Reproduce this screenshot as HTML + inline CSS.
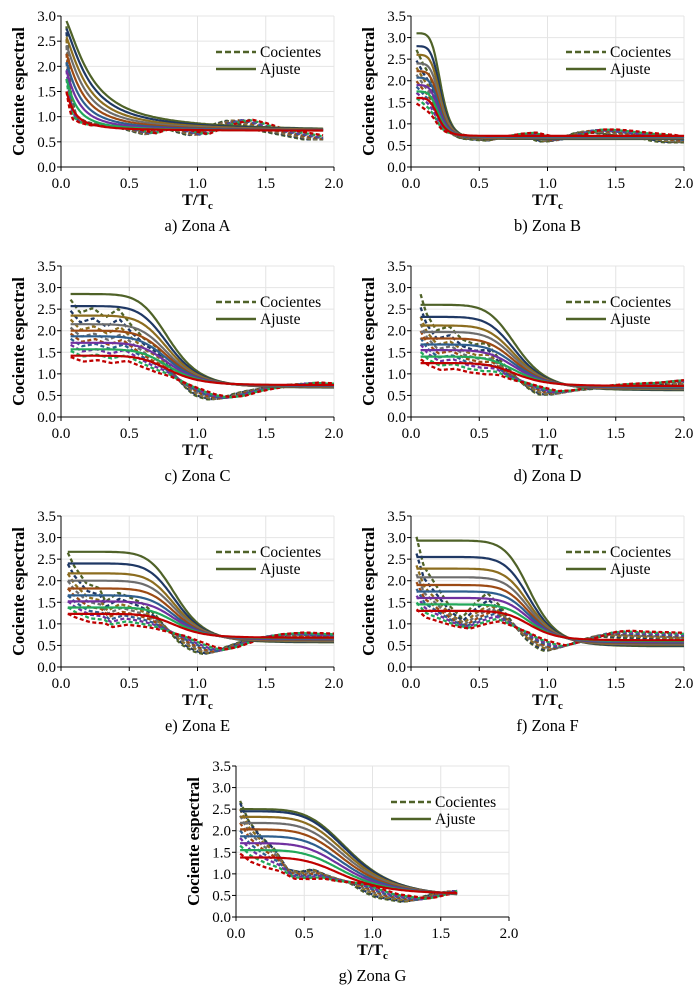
<!DOCTYPE html>
<html><head><meta charset="utf-8"><style>
html,body{margin:0;padding:0;background:#fff}
svg{display:block}
svg text{font-family:"Liberation Serif","Times New Roman",serif}
</style></head><body>
<svg id="fig" width="700" height="995" viewBox="0 0 700 995" xmlns="http://www.w3.org/2000/svg" font-family="Liberation Serif, serif"></svg>
<script>
// ---- data ----
const panelLetters = ["a","b","c","d","e","f","g"];
const panelNames = ["Zona A","Zona B","Zona C","Zona D","Zona E","Zona F","Zona G"];
const yMaxes = [3.0,3.5,3.5,3.5,3.5,3.5,3.5];
const xTicks = [0,0.5,1.0,1.5,2.0];
const xStarts = [0.04,0.04,0.07,0.07,0.05,0.04,0.03];
const xEnds = [1.92,2.0,2.0,2.0,2.0,2.0,1.62];
const startA = [2.9,2.75,2.58,2.42,2.25,2.08,1.92,1.75,1.5];
const startB = [3.1,2.8,2.6,2.4,2.22,2.07,1.9,1.75,1.6];
const startC = [2.85,2.57,2.35,2.15,2.0,1.87,1.72,1.57,1.42];
const startD = [2.6,2.32,2.12,1.97,1.82,1.68,1.55,1.4,1.25];
const startE = [2.67,2.4,2.17,2.0,1.82,1.66,1.52,1.38,1.23];
const startF = [2.93,2.55,2.28,2.08,1.9,1.75,1.6,1.45,1.3];
const startG = [2.5,2.45,2.32,2.18,2.03,1.87,1.71,1.55,1.38];
const x0Top = [0.2,0.22,0.8,0.78,0.85,0.88,0.85];
const x0Bot = [0.06,0.2,0.8,0.78,0.85,0.88,0.8];
const slopes = [1.6,6,7,7,8,9,5];
const yInfTop = [0.7,0.65,0.68,0.62,0.57,0.48,0.45];
const yInfBot = [0.72,0.72,0.74,0.72,0.68,0.62,0.53];
const mA = [[0.04,1],[0.08,0.3],[0.12,0.1],[0.3,0.05],[0.5,0]];
const aA = [[0.04,0],[0.1,0.15],[0.2,0.1],[0.4,0.1],[0.5,0.05],[0.6,-0.02],[0.65,-0.05],[0.7,0],[0.8,0.08],[0.9,0],[1.0,-0.07],[1.1,0.05],[1.2,0.15],[1.3,0.22],[1.4,0.15],[1.5,0.05],[1.6,0],[1.7,-0.05],[1.8,-0.1],[1.9,-0.15]];
const mB = [[0.04,0.85],[0.1,0.7],[0.2,0.55],[0.3,0.3],[0.4,0.1],[0.5,0]];
const aB = [[0.04,0],[0.2,0],[0.3,0.05],[0.4,0],[0.5,-0.02],[0.6,-0.04],[0.7,0.02],[0.75,0.05],[0.85,0.08],[0.95,0],[1.0,-0.06],[1.1,-0.05],[1.2,0.05],[1.3,0.15],[1.4,0.15],[1.5,0.12],[1.6,0.08],[1.7,0.05],[1.8,0.02],[1.9,-0.05],[2.0,-0.08]];
const mC = [[0.07,0.95],[0.15,0.8],[0.25,0.85],[0.35,0.75],[0.45,0.85],[0.55,0.7],[0.65,0.6],[0.75,0.6],[0.85,0.5],[0.95,0.3],[1.05,0.1],[1.2,0]];
const aC = [[0.07,0],[0.75,0],[0.85,-0.05],[0.95,-0.12],[1.05,-0.22],[1.15,-0.28],[1.25,-0.25],[1.35,-0.15],[1.45,-0.08],[1.55,-0.03],[1.65,0],[1.75,0.06],[1.85,0.04],[2.0,0.04]];
const mD = [[0.07,1.15],[0.12,0.9],[0.2,0.7],[0.3,0.75],[0.4,0.6],[0.5,0.55],[0.6,0.6],[0.7,0.45],[0.8,0.35],[0.9,0.2],[1.0,0.05],[1.1,0]];
const aD = [[0.07,0],[0.8,0],[0.9,-0.05],[1.0,-0.12],[1.1,-0.1],[1.2,-0.05],[1.3,0],[1.5,0.05],[1.7,0.08],[1.9,0.15],[2.0,0.12]];
const mE = [[0.05,1.0],[0.1,0.85],[0.2,0.65],[0.3,0.6],[0.35,0.45],[0.45,0.55],[0.55,0.5],[0.65,0.45],[0.75,0.35],[0.85,0.2],[0.95,0.05],[1.05,0]];
const aE = [[0.05,0],[0.85,0],[0.95,-0.1],[1.05,-0.22],[1.12,-0.27],[1.2,-0.22],[1.3,-0.1],[1.4,0],[1.5,0.08],[1.65,0.12],[1.8,0.1],[2.0,0.08]];
const mF = [[0.04,1.05],[0.1,0.75],[0.2,0.55],[0.3,0.35],[0.4,0.22],[0.5,0.35],[0.6,0.45],[0.7,0.35],[0.8,0.22],[0.9,0.12],[1.0,0.03],[1.1,0]];
const aF = [[0.04,0],[0.2,0.05],[0.4,0.12],[0.6,0.15],[0.8,0.1],[0.9,0],[1.0,-0.08],[1.05,-0.12],[1.1,-0.08],[1.2,0],[1.3,0.1],[1.4,0.2],[1.5,0.22],[1.6,0.2],[1.8,0.18],[2.0,0.15]];
const mG = [[0.03,1.1],[0.1,0.85],[0.2,0.65],[0.3,0.5],[0.4,0.25],[0.5,0.2],[0.6,0.25],[0.7,0.2],[0.8,0.15],[0.9,0.12],[1.0,0.05],[1.1,0]];
const aG = [[0.03,0],[0.4,0.15],[0.5,0.2],[0.7,0.2],[0.8,0.22],[0.9,0.2],[1.0,0.1],[1.1,0],[1.2,-0.05],[1.3,-0.1],[1.35,-0.08],[1.45,0],[1.55,0.1],[1.62,0.1]];
const startsAll = [startA,startB,startC,startD,startE,startF,startG];
const mAll = [mA,mB,mC,mD,mE,mF,mG];
const aAll = [aA,aB,aC,aD,aE,aF,aG];
const colors = ["#4f6228","#1f3864","#8c6d1f","#6d6d6d","#9c4a14","#2e5e8e","#7030a0","#22a85a","#c00000"];
const offsets = [[0,0],[350,0],[0,250],[350,250],[0,500],[350,500],[175,750]];

const NS="http://www.w3.org/2000/svg";
const FONT="Liberation Serif, serif";
const svg=document.getElementById('fig');
function mk(tag,attrs,parent){const e=document.createElementNS(NS,tag);for(const k in attrs)e.setAttribute(k,attrs[k]);if(tag==='text')e.setAttribute('font-family',FONT);(parent||svg).appendChild(e);return e;}
function interp(kn,x){if(x<=kn[0][0])return kn[0][1];for(let i=1;i<kn.length;i++){if(x<=kn[i][0]){const t=(x-kn[i-1][0])/(kn[i][0]-kn[i-1][0]);return kn[i-1][1]+t*(kn[i][1]-kn[i-1][1]);}}return kn[kn.length-1][1];}

for(let p=0;p<7;p++){
  const [ox,oy]=offsets[p];
  const L=ox+61,R=ox+334,T=oy+16,B=oy+167;
  const ymax=yMaxes[p];
  const sx=v=>L+(v/2)*(R-L);
  const sy=v=>B-(v/ymax)*(B-T);
  const g=mk('g',{});
  
  
  for(let v=0.5;v<=ymax+1e-9;v+=0.5){const l=mk('line',{x1:L,x2:R,y1:sy(v),y2:sy(v),stroke:'#e4e4e4','stroke-width':1},g);}
  for(const v of xTicks){if(v===0)continue;const l=mk('line',{x1:sx(v),x2:sx(v),y1:T,y2:B,stroke:'#e4e4e4','stroke-width':1},g);}
  const starts=startsAll[p],n=slopes[p],xs=xStarts[p],xe=xEnds[p],ns=starts.length;
  const fitFns=[];
  for(let i=0;i<ns;i++){
    const t=i/(ns-1);
    const x0=x0Top[p]+t*(x0Bot[p]-x0Top[p]);
    const yinf=yInfTop[p]+t*(yInfBot[p]-yInfTop[p]);
    const f=x=>1/(1+Math.pow(x/x0,n));
    const f0=f(xs);
    fitFns.push({yinf,fit:x=>yinf+(starts[i]-yinf)*f(x)/f0});
  }
  const steps=160;
  for(let i=0;i<ns;i++){
    const {yinf,fit}=fitFns[i];
    const shift=1-0.018*(i-4);
    let d='';
    for(let k=0;k<=steps;k++){
      const x=xs+(xe-xs)*k/steps;
      const xx=Math.max(xs,x*shift);
      const y=yinf+(fit(x)-yinf)*interp(mAll[p],xx)+interp(aAll[p],xx);
      d+=(k?'L':'M')+sx(x).toFixed(1)+','+sy(y).toFixed(1);
    }
    const pth=mk('path',{d,fill:'none',stroke:colors[i],'stroke-width':2.3,'stroke-dasharray':'4,2.5'},g);
    
    
  }
  for(let i=0;i<ns;i++){
    const {fit}=fitFns[i];
    let d='';
    for(let k=0;k<=steps;k++){
      const x=xs+(xe-xs)*k/steps;
      d+=(k?'L':'M')+sx(x).toFixed(1)+','+sy(fit(x)).toFixed(1);
    }
    const pth=mk('path',{d,fill:'none',stroke:colors[i],'stroke-width':2.2},g);
    
    
  }
  const ya=mk('line',{x1:L,x2:L,y1:T,y2:B,stroke:'#000','stroke-width':1},g);
  
  const xa=mk('line',{x1:L,x2:R,y1:B,y2:B,stroke:'#000','stroke-width':1},g);
  
  for(let v=0;v<=ymax+1e-9;v+=0.5){
    mk('line',{x1:L-4,x2:L,y1:sy(v),y2:sy(v),stroke:'#000'},g);
    const t=mk('text',{x:L-5,y:sy(v)+5,'text-anchor':'end','font-size':15,fill:'#000'},g);
    t.textContent=v.toFixed(1);
    
  }
  for(const v of xTicks){
    mk('line',{x1:sx(v),x2:sx(v),y1:B,y2:B+4,stroke:'#000'},g);
    const t=mk('text',{x:sx(v),y:B+21,'text-anchor':'middle','font-size':15,fill:'#000'},g);
    t.textContent=v.toFixed(1);
    
  }
  const cx=(L+R)/2;
  const xt=mk('text',{x:cx,y:B+38,'text-anchor':'middle','font-size':16,'font-weight':'bold',fill:'#000'},g);
  xt.innerHTML='T/T<tspan font-size="11" dy="4">c</tspan>';
  
  const yt=mk('text',{x:0,y:0,'text-anchor':'middle','font-size':16.5,'font-weight':'bold',fill:'#000',transform:`translate(${ox+24},${(T+B)/2}) rotate(-90)`},g);
  yt.textContent='Cociente espectral';
  
  const lg=mk('g',{},g);
  
  mk('line',{x1:ox+216,x2:ox+256,y1:oy+52,y2:oy+52,stroke:'#4f6228','stroke-width':2.6,'stroke-dasharray':'6,3'},lg);
  mk('line',{x1:ox+216,x2:ox+256,y1:oy+69,y2:oy+69,stroke:'#4f6228','stroke-width':2.6},lg);
  const l1=mk('text',{x:ox+260,y:oy+57,'font-size':15.5,fill:'#000'},lg);l1.textContent='Cocientes';
  
  const l2=mk('text',{x:ox+260,y:oy+74,'font-size':15.5,fill:'#000'},lg);l2.textContent='Ajuste';
  
  const cap=mk('text',{x:cx,y:oy+231,'text-anchor':'middle','font-size':16.5,fill:'#000'},g);
  cap.textContent=panelLetters[p]+') '+panelNames[p];
  
}
</script>
</body></html>
